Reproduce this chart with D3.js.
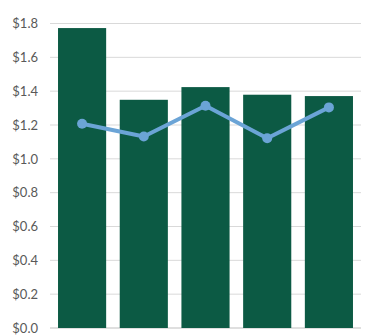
<!DOCTYPE html>
<html>
<head>
<meta charset="utf-8">
<script src="https://cdn.jsdelivr.net/npm/d3@7"></script>
<style>
  body { margin: 0; background: #fff; }
  svg text { font-family: Lato, "Open Sans", sans-serif; }
</style>
</head>
<body>
<div id="container"></div>
<script>
/** CONSTANTS AND GLOBALS */
const width = 389,
  height = 336,
  margin = { top: 23.5, bottom: 8, left: 50, right: 28 };

// data
const categories = ["A", "B", "C", "D", "E"];
const barValues = [1.773, 1.349, 1.424, 1.379, 1.371];
const lineValues = [1.207, 1.132, 1.314, 1.122, 1.304];
const yTicks = [0, 0.2, 0.4, 0.6, 0.8, 1.0, 1.2, 1.4, 1.6, 1.8];

const svg = d3.select("#container")
  .append("svg")
  .attr("width", width)
  .attr("height", height);

const x = d3.scaleBand()
  .domain(categories)
  .range([margin.left, width - margin.right])
  .paddingInner(0.22)
  .paddingOuter(0.13);

const y = d3.scaleLinear()
  .domain([0, 1.8])
  .range([height - margin.bottom, margin.top]);

// gridlines
svg.append("g")
  .selectAll("line")
  .data(yTicks)
  .join("line")
  .attr("x1", margin.left)
  .attr("x2", width - margin.right)
  .attr("y1", d => y(d))
  .attr("y2", d => y(d))
  .attr("stroke", d => d === 0 ? "#bfbfbf" : "#d9d9d9")
  .attr("stroke-width", 1);

// y axis labels
const yAxis = svg.append("g")
  .attr("transform", `translate(${margin.left - 12},0)`)
  .call(d3.axisLeft(y).tickValues(yTicks).tickFormat(d => "$" + d3.format(".1f")(d)).tickSize(0).tickPadding(0));
yAxis.select(".domain").remove();
yAxis.selectAll("text")
  .attr("fill", "#595959")
  .style("font-size", "13px");

// bars
svg.append("g")
  .selectAll("rect")
  .data(categories)
  .join("rect")
  .attr("x", d => x(d))
  .attr("width", x.bandwidth())
  .attr("y", (d, i) => y(barValues[i]))
  .attr("height", (d, i) => y(0) - y(barValues[i]))
  .attr("fill", "#0c5a44");

// line
const line = d3.line()
  .x((d, i) => x(categories[i]) + x.bandwidth() / 2)
  .y(d => y(d));

svg.append("path")
  .datum(lineValues)
  .attr("d", line)
  .attr("fill", "none")
  .attr("stroke", "#6ba4d6")
  .attr("stroke-width", 4)
  .attr("stroke-linejoin", "round");

svg.append("g")
  .selectAll("circle")
  .data(lineValues)
  .join("circle")
  .attr("cx", (d, i) => x(categories[i]) + x.bandwidth() / 2)
  .attr("cy", d => y(d))
  .attr("r", 5)
  .attr("fill", "#6ba4d6");
</script>
</body>
</html>
